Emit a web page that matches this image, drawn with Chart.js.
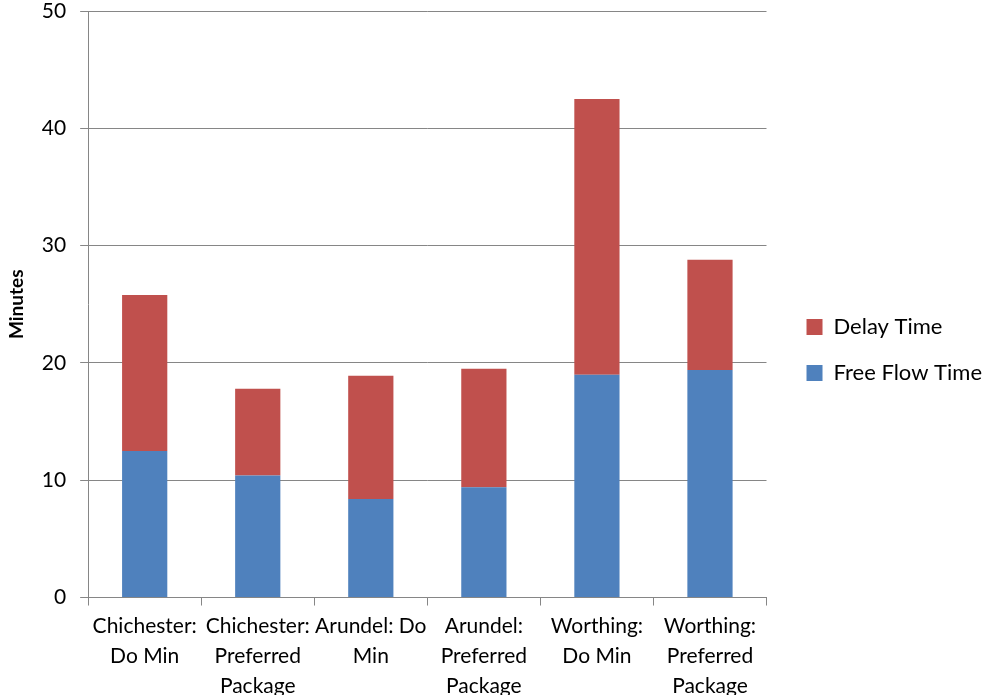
<!DOCTYPE html>
<html>
<head>
<meta charset="utf-8">
<script src="https://cdn.jsdelivr.net/npm/chart.js@4"></script>
<style>
  html, body { margin: 0; padding: 0; background: #fff; }
  #wrap { width: 986px; height: 695px; }
</style>
</head>
<body>
<div id="wrap"><canvas id="chart"></canvas></div>
<script>
// 카테고리 (x축 라벨, 줄바꿈 포함)
const categories = [
    ['Chichester:', 'Do Min'],
    ['Chichester:', 'Preferred', 'Package'],
    ['Arundel: Do', 'Min'],
    ['Arundel:', 'Preferred', 'Package'],
    ['Worthing:', 'Do Min'],
    ['Worthing:', 'Preferred', 'Package']
];

// 시리즈 값 (분)
const freeFlowTime = [12.5, 10.4, 8.4, 9.4, 19.0, 19.4];
const delayTime = [13.3, 7.4, 10.5, 10.1, 23.5, 9.4];

// y축 눈금
const yTicks = [0, 10, 20, 30, 40, 50];

const FONT = 'Lato, "Open Sans", sans-serif';
const GRID = '#868686';

// 범례와 플롯 사이 간격 조정
const LEGEND_GAP = 10;   // 범례 박스 폭 추가분
const LEGEND_SHIFT = 16; // 범례 항목 오른쪽 이동
const LEGEND_RAISE = 9;  // 범례 항목 위로 이동
const legendGap = {
    id: 'legendGap',
    beforeInit(chart) {
        const lg = chart.legend;
        if (!lg) return;
        const fit = lg.fit;
        lg.fit = function () {
            fit.call(this);
            this.width += LEGEND_GAP;
        };
    },
    afterLayout(chart) {
        const lg = chart.legend;
        if (!lg) return;
        lg.left += LEGEND_SHIFT;
        lg.top -= LEGEND_RAISE;
        lg.bottom -= LEGEND_RAISE;
    }
};

const ctx = document.getElementById('chart').getContext('2d');

new Chart(ctx, {
    type: 'bar',
    data: {
        labels: categories,
        datasets: [
            {
                label: 'Free Flow Time',
                data: freeFlowTime,
                backgroundColor: '#4F81BD',
                barPercentage: 0.4,
                categoryPercentage: 1.0
            },
            {
                label: 'Delay Time',
                data: delayTime,
                backgroundColor: '#C0504D',
                barPercentage: 0.4,
                categoryPercentage: 1.0
            }
        ]
    },
    options: {
        responsive: true,
        maintainAspectRatio: false,
        animation: false,
        layout: { padding: { top: 11, right: 0, left: 5, bottom: -12 } },
        plugins: {
            tooltip: { enabled: false },
            legend: {
                position: 'right',
                reverse: true,
                labels: {
                    boxWidth: 16,
                    boxHeight: 16,
                    padding: 24,
                    color: '#000',
                    font: { family: FONT, size: 22 }
                }
            }
        },
        scales: {
            x: {
                stacked: true,
                grid: {
                    display: true,
                    drawOnChartArea: false,
                    offset: true,
                    tickLength: 8,
                    color: GRID
                },
                border: { color: GRID, width: 1 },
                ticks: {
                    color: '#000',
                    maxRotation: 0,
                    autoSkip: false,
                    padding: 6,
                    font: { family: FONT, size: 21, lineHeight: 1.42 }
                }
            },
            y: {
                stacked: true,
                min: 0,
                max: 50,
                afterBuildTicks: axis => { axis.ticks = yTicks.map(v => ({ value: v })); },
                afterFit: axis => { axis.paddingTop = 0; },
                grid: { color: GRID, tickLength: 8 },
                border: { color: GRID, width: 1 },
                ticks: {
                    color: '#000',
                    padding: 14,
                    font: { family: FONT, size: 21, lineHeight: 1.0 }
                },
                title: {
                    display: true,
                    text: 'Minutes',
                    color: '#000',
                    font: { family: FONT, size: 19, weight: 'bold' },
                    padding: { top: 0, bottom: 0 }
                }
            }
        }
    },
    plugins: [legendGap]
});
</script>
</body>
</html>
